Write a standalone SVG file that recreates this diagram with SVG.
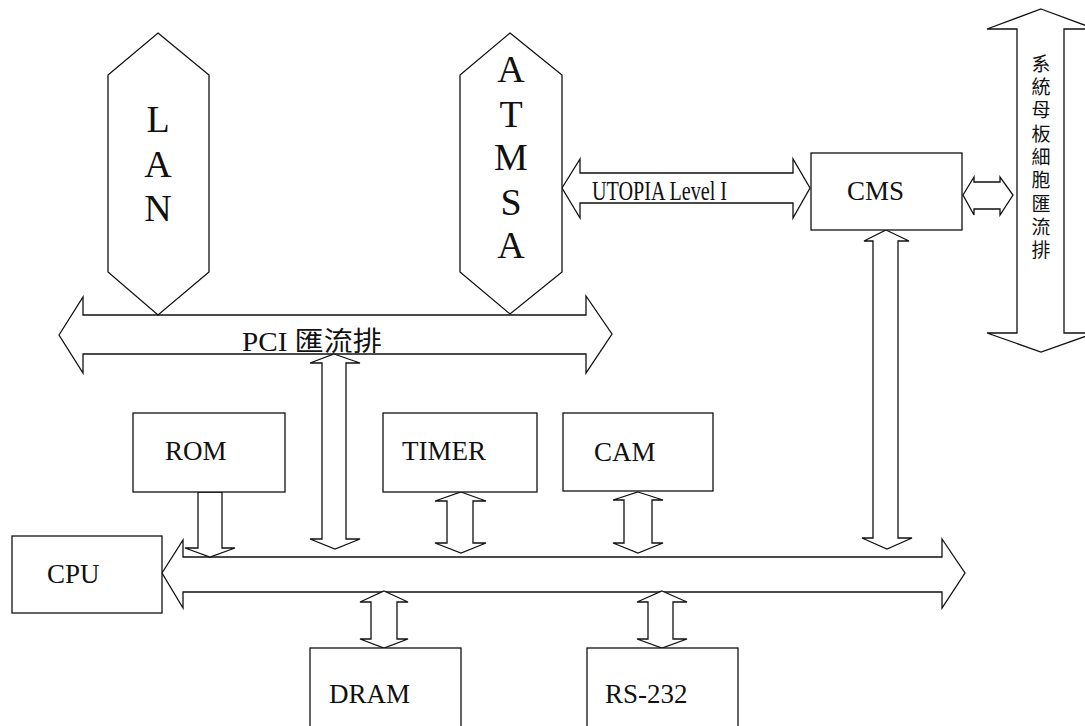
<svg xmlns="http://www.w3.org/2000/svg" width="1085" height="726" viewBox="0 0 1085 726">
<style>
.sh{fill:#fff;stroke:#111;stroke-width:1.3;stroke-linejoin:miter}
.t{font-family:"Liberation Serif","Times New Roman",serif;fill:#111;font-size:27px}
.big{font-family:"Liberation Serif","Times New Roman",serif;fill:#111;font-size:38px;text-anchor:middle}
.cjk{font-family:"Noto Sans CJK TC","Noto Sans CJK SC",sans-serif;fill:#111;font-size:19px}
</style>
<rect width="1085" height="726" fill="#fff"/>
<g id="connectors">
  <polygon id="pci-bus" class="sh" points="59,335 83,297 83,315 586,315 586,296 612,334 586,373 586,354 83,354 83,373"/>
  <polygon id="main-bus" class="sh" points="162,573 183,540 183,557 942,557 942,539 965,573 942,608 942,592 183,592 183,608"/>
  <polygon id="utopia" class="sh" points="562,188 580,159 580,173 793,173 793,159 810,188 793,218 793,203 580,203 580,218"/>
  <polygon id="cms-sys" class="sh" points="963,195 974,177 974,182 1000,182 1000,177 1013,195 1000,215 1000,209 974,209 974,215"/>
  <polygon id="pci-main" class="sh" points="334,354 360,363 346,363 346,539 360,539 335,549 310,539 322,539 322,363 310,363"/>
  <polygon id="rom-main" class="sh" points="198,492 222,492 222,548 235,548 210,557 185,548 198,548"/>
  <polygon id="timer-main" class="sh" points="461,492 486,501 473,501 473,543 486,543 461,553 435,543 447,543 447,501 435,501"/>
  <polygon id="cam-main" class="sh" points="638,492 663,500 652,500 652,543 663,543 638,553 613,543 624,543 624,500 613,500"/>
  <polygon id="cms-main" class="sh" points="886,230 909,241 898,241 898,538 912,538 887,549 862,538 873,538 873,241 864,241"/>
  <polygon id="dram-main" class="sh" points="384,591 408,602 397,602 397,639 408,639 384,648 360,639 371,639 371,602 360,602"/>
  <polygon id="rs232-main" class="sh" points="662,591 687,602 673,602 673,639 687,639 662,648 637,639 648,639 648,602 637,602"/>
  <text class="t" x="242" y="351" font-size="30" textLength="140" lengthAdjust="spacingAndGlyphs">PCI <tspan font-family="Noto Sans CJK TC, Noto Sans CJK SC, sans-serif">匯流排</tspan></text>
  <text class="t" x="592" y="200" font-size="21" textLength="135" lengthAdjust="spacingAndGlyphs">UTOPIA Level I</text>
</g>
<g id="sysbus">
  <polygon class="sh" points="1041,9 1095,29 1064,29 1064,333 1095,333 1041,352 987,333 1017,333 1017,29 987,29"/>
  <text class="cjk" x="1041" y="54" writing-mode="tb" style="writing-mode:vertical-rl" letter-spacing="4.3">系統母板細胞匯流排</text>
</g>
<g id="lan">
  <polygon class="sh" points="158,33 209,75 209,272 158,315 108,272 108,75"/>
  <text class="big" x="158" y="132">L</text>
  <text class="big" x="158" y="177">A</text>
  <text class="big" x="158" y="221">N</text>
</g>
<g id="atmsa">
  <polygon class="sh" points="510,33 562,75 562,272 510,314 460,272 460,75"/>
  <text class="big" x="511" y="82">A</text>
  <text class="big" x="511" y="127">T</text>
  <text class="big" x="511" y="170">M</text>
  <text class="big" x="511" y="215">S</text>
  <text class="big" x="511" y="258">A</text>
</g>
<g id="cms">
  <rect class="sh" x="811" y="153" width="151" height="77"/>
  <text class="t" x="847" y="200">CMS</text>
</g>
<g id="rom">
  <rect class="sh" x="133" y="413" width="152" height="79"/>
  <text class="t" x="165" y="460">ROM</text>
</g>
<g id="timer">
  <rect class="sh" x="383" y="413" width="154" height="79"/>
  <text class="t" x="402" y="460">TIMER</text>
</g>
<g id="cam">
  <rect class="sh" x="563" y="413" width="150" height="78"/>
  <text class="t" x="594" y="461">CAM</text>
</g>
<g id="cpu">
  <rect class="sh" x="12" y="536" width="150" height="77"/>
  <text class="t" x="47" y="583">CPU</text>
</g>
<g id="dram">
  <rect class="sh" x="310" y="648" width="151" height="90"/>
  <text class="t" x="329" y="703">DRAM</text>
</g>
<g id="rs232">
  <rect class="sh" x="587" y="648" width="151" height="90"/>
  <text class="t" x="605" y="703">RS-232</text>
</g>
</svg>
